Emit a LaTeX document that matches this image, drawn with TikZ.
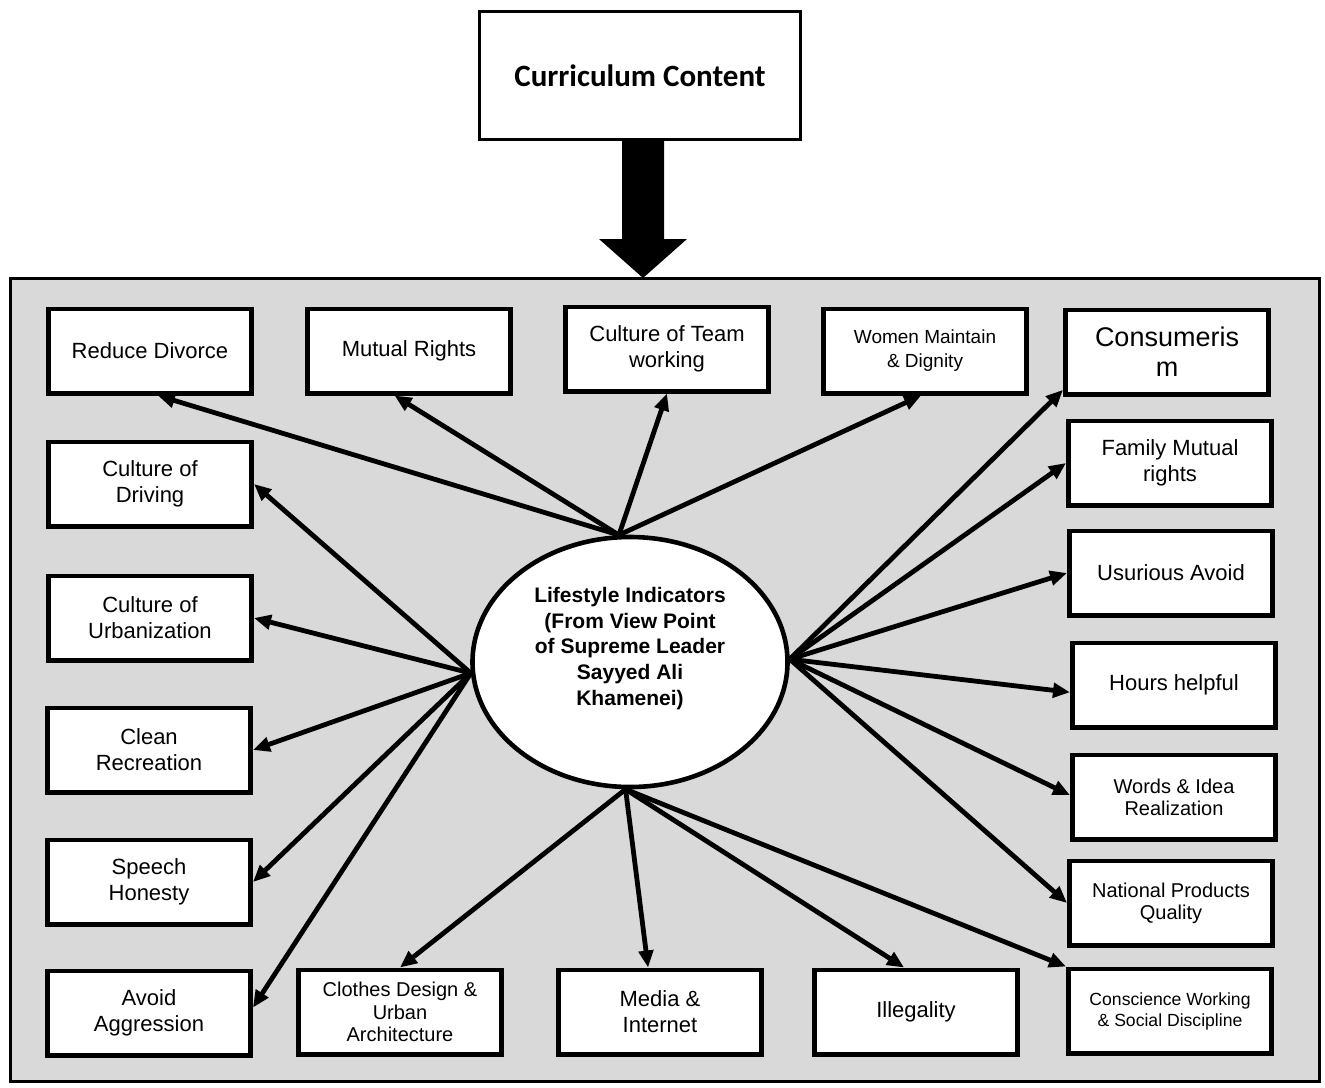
\documentclass[tikz,border=0pt]{standalone}
\usepackage{fontspec}
\setmainfont{Liberation Sans}
\newfontfamily\calibrifont{Carlito}
\usetikzlibrary{arrows.meta,shapes.geometric,calc}
\definecolor{panelgray}{RGB}{217,217,217}
\begin{document}
\begin{tikzpicture}[x=0.5pt,y=-0.5pt,
  box/.style={draw=black,line width=2.3pt,fill=white,minimum width=101.7pt,minimum height=42.2pt,inner sep=2pt,align=center,font=\fontsize{11}{13}\selectfont},
  arr/.style={line width=2.4pt,-{Triangle[length=8.5pt,width=7.2pt]}},
  fatarrow/.style={fill=black},
]
\useasboundingbox (0,0) rectangle (1325,1087);
% top box
\node[draw=black,line width=1.5pt,fill=white,minimum width=160.5pt,minimum height=64pt,inner sep=0pt,font=\calibrifont\bfseries\fontsize{15.5}{18}\selectfont] (cc) at (640,75.5) {Curriculum Content};
% panel
\node[draw=black,line width=1.6pt,fill=panelgray,minimum width=654.4pt,minimum height=401.4pt,inner sep=0pt] (frame) at (665,680) {};
% fat arrow
\coordinate (ftip) at (643,278);
\fill[fatarrow] (ftip) -- ($(ftip)+(-44,-39)$) -- ($(ftip)+(-21,-39)$) -- ($(ftip)+(-21,-137)$) -- ($(ftip)+(21,-137)$) -- ($(ftip)+(21,-39)$) -- ($(ftip)+(44,-39)$) -- cycle;
% central ellipse
\node[ellipse,draw=black,line width=2.3pt,fill=white,minimum width=157.5pt,minimum height=125pt,inner sep=0pt,align=center,font=\bfseries\fontsize{10.5}{12.8}\selectfont] (li) at (630,662) {Lifestyle Indicators\\(From View Point\\of Supreme Leader\\Sayyed Ali\\Khamenei)\\[3pt]\mbox{}};
% boxes
\node[box] (rd) at (150,351) {Reduce Divorce};
\node[box] (mr) at (409,351) {Mutual Rights};
\node[box] (ct) at (667,349) {Culture of Team\\working};
\node[box,font=\fontsize{9.5}{12}\selectfont] (wm) at (925,351) {Women Maintain\\\& Dignity};
\node[box,font=\fontsize{13.5}{15}\selectfont] (cons) at (1167,352) {Consumeris\\m};
\node[box] (fam) at (1170,463) {Family Mutual\\rights};
\node[box] (us) at (1171,573) {Usurious Avoid};
\node[box] (hh) at (1174,685) {Hours helpful};
\node[box,font=\fontsize{10}{11}\selectfont] (wi) at (1174,797) {Words \& Idea\\Realization};
\node[box,font=\fontsize{10}{11}\selectfont] (np) at (1171,903) {National Products\\Quality};
\node[box,font=\fontsize{8.8}{10.5}\selectfont] (cw) at (1170,1011) {Conscience Working\\\& Social Discipline};
\node[box] (il) at (916,1012) {Illegality};
\node[box] (me) at (660,1012) {Media \&\\Internet};
\node[box,font=\fontsize{10}{11.3}\selectfont] (cl) at (400,1012) {Clothes Design \&\\Urban\\Architecture};
\node[box] (aa) at (149,1013) {Avoid\\Aggression};
\node[box] (sh) at (149,882) {Speech\\Honesty};
\node[box] (cr) at (149,750) {Clean\\Recreation};
\node[box] (cu) at (150,618) {Culture of\\Urbanization};
\node[box] (cd) at (150,484) {Culture of\\Driving};
% arrows: top hub
\draw[arr] (li.95) -- (rd.-80);
\draw[arr] (li.95) -- (mr.-108);
\draw[arr] (li.95) -- (ct.south);
\draw[arr] (li.95) -- (wm.-95);
% left hub
\draw[arr] (li.184) -- (cd.east);
\draw[arr] (li.184) -- (cu.east);
\draw[arr] (li.184) -- (cr.east);
\draw[arr] (li.184) -- (sh.east);
\draw[arr] (li.184) -- (aa.3);
% right hub
\draw[arr] (li.1) -- (cons.200);
\draw[arr] (li.1) -- (fam.west);
\draw[arr] (li.1) -- (us.west);
\draw[arr] (li.1) -- (hh.184);
\draw[arr] (li.1) -- (wi.179);
\draw[arr] (li.1) -- (np.west);
% bottom hub
\draw[arr] (li.268) -- (cl.north);
\draw[arr] (li.268) -- (me.105);
\draw[arr] (li.268) -- (il.105);
\draw[arr] (li.268) -- (cw.north west);
\end{tikzpicture}
\end{document}
